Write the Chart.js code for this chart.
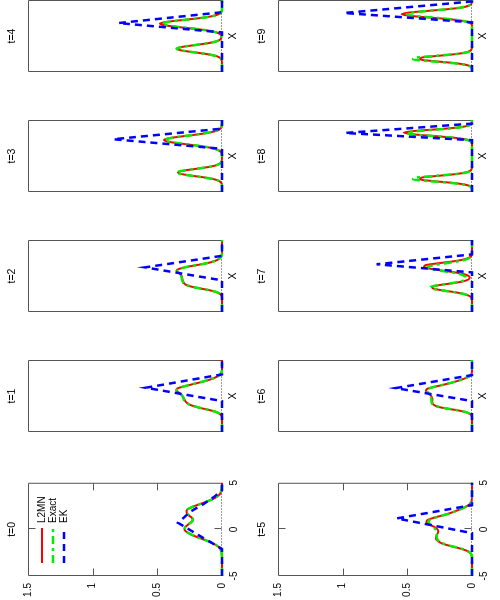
<!DOCTYPE html>
<html><head><meta charset="utf-8">
<script src="https://cdn.jsdelivr.net/npm/chart.js@4/dist/chart.umd.min.js"></script>
<style>
html,body{margin:0;padding:0;background:#fff;width:500px;height:600px;overflow:hidden}
#fig{position:absolute;left:0;top:0;width:600px;height:500px;transform-origin:0 0;transform:translate(0,600px) rotate(-90deg)}
#fig canvas{position:absolute}
</style></head><body><div id="fig"></div>
<script>
// ---- data ----
const TIMES = [0,1,2,3,4,5,6,7,8,9];
const SERIES_NAMES = ['L2MN','Exact','EK'];
const X_TICKS = [-5,0,5];
const Y_TICKS = [0,0.5,1,1.5];
const XS = [-5,-4.75,-4.5,-4.25,-4,-3.75,-3.5,-3.25,-3,-2.75,-2.5,-2.25,-2,-1.75,-1.5,-1.25,-1,-0.75,-0.5,-0.25,0,0.25,0.5,0.75,1,1.25,1.5,1.75,2,2.25,2.5,2.75,3,3.25,3.5,3.75,4,4.25,4.5,4.75,5];

const EXACT_T0 = [0,0,0,0,0,0,0,0,0,0.001,0.003,0.008,0.018,0.038,0.07,0.11,0.155,0.205,0.245,0.275,0.29,0.285,0.265,0.24,0.225,0.232,0.255,0.272,0.275,0.255,0.215,0.165,0.115,0.072,0.04,0.02,0.008,0.003,0.001,0,0];
const L2MN_T0  = [0,0,0,0,0,0,0,0,0,0.001,0.003,0.008,0.019,0.039,0.071,0.112,0.157,0.206,0.246,0.276,0.29,0.284,0.264,0.24,0.226,0.234,0.257,0.273,0.275,0.254,0.213,0.163,0.114,0.071,0.04,0.02,0.008,0.003,0.001,0,0];
const EXACT_T1 = [0,0,0,0,0,0,0,0,0,0.005,0.015,0.04,0.085,0.145,0.2,0.245,0.27,0.285,0.295,0.3,0.307,0.317,0.332,0.348,0.345,0.31,0.26,0.205,0.15,0.1,0.06,0.032,0.014,0.005,0.001,0,0,0,0,0,0];
const L2MN_T1  = [0,0,0,0,0,0,0,0,0,0.005,0.016,0.041,0.086,0.146,0.2,0.244,0.268,0.282,0.29,0.296,0.305,0.318,0.336,0.354,0.35,0.312,0.258,0.202,0.148,0.099,0.06,0.032,0.014,0.005,0.001,0,0,0,0,0,0];
const EXACT_T2 = [0,0,0,0,0,0,0,0,0,0.005,0.015,0.04,0.09,0.16,0.23,0.275,0.295,0.305,0.31,0.312,0.315,0.322,0.335,0.345,0.325,0.275,0.2,0.125,0.07,0.035,0.015,0.005,0.001,0,0,0,0,0,0,0,0];
const L2MN_T2  = [0,0,0,0,0,0,0,0,0,0.005,0.015,0.041,0.091,0.162,0.232,0.276,0.294,0.302,0.306,0.308,0.312,0.322,0.338,0.352,0.33,0.278,0.2,0.124,0.069,0.034,0.015,0.005,0.001,0,0,0,0,0,0,0,0];
const EXACT_T3 = [0,0,0,0,0.001,0.005,0.02,0.057,0.131,0.233,0.323,0.348,0.292,0.191,0.097,0.039,0.012,0.003,0.001,0,0,0.002,0.007,0.022,0.056,0.12,0.216,0.326,0.414,0.442,0.397,0.3,0.19,0.102,0.045,0.017,0.005,0.002,0,0,0];
const L2MN_T3  = [0,0,0,0,0.001,0.005,0.02,0.056,0.128,0.228,0.315,0.34,0.286,0.188,0.096,0.039,0.012,0.003,0.001,0,0,0.002,0.007,0.022,0.056,0.121,0.218,0.33,0.42,0.448,0.4,0.3,0.188,0.1,0.044,0.017,0.005,0.002,0,0,0];
const EXACT_T4 = [0,0,0,0,0,0,0.001,0.004,0.017,0.052,0.121,0.222,0.317,0.352,0.304,0.205,0.108,0.044,0.014,0.005,0.006,0.014,0.043,0.105,0.207,0.333,0.435,0.463,0.401,0.282,0.161,0.075,0.029,0.009,0.002,0,0,0,0,0,0];
const L2MN_T4  = [0,0,0,0,0,0,0.001,0.004,0.017,0.051,0.12,0.22,0.314,0.35,0.303,0.205,0.108,0.044,0.014,0.005,0.006,0.014,0.044,0.107,0.212,0.342,0.448,0.479,0.414,0.29,0.165,0.077,0.03,0.009,0.002,0,0,0,0,0,0];
const EXACT_T5 = [0,0,0,0,0,0,0,0,0,0.004,0.015,0.045,0.1,0.17,0.225,0.258,0.27,0.272,0.272,0.275,0.282,0.298,0.32,0.336,0.33,0.285,0.225,0.165,0.12,0.075,0.038,0.015,0.004,0.001,0,0,0,0,0,0,0];
const L2MN_T5  = [0,0,0,0,0,0,0,0,0,0.004,0.016,0.047,0.104,0.176,0.232,0.264,0.278,0.277,0.268,0.26,0.266,0.29,0.325,0.352,0.345,0.295,0.23,0.168,0.121,0.075,0.038,0.015,0.004,0.001,0,0,0,0,0,0,0];
const EXACT_T6 = [0,0,0,0,0,0,0,0,0,0.004,0.015,0.045,0.105,0.19,0.26,0.295,0.31,0.313,0.314,0.316,0.322,0.332,0.343,0.35,0.34,0.295,0.235,0.18,0.13,0.085,0.048,0.02,0.006,0.002,0,0,0,0,0,0,0];
const L2MN_T6  = [0,0,0,0,0,0,0,0,0,0.004,0.015,0.046,0.107,0.193,0.262,0.294,0.306,0.307,0.306,0.308,0.315,0.33,0.346,0.356,0.346,0.298,0.236,0.18,0.13,0.085,0.048,0.02,0.006,0.002,0,0,0,0,0,0,0];
const EXACT_T7 = [0,0,0,0,0,0,0,0.001,0.006,0.023,0.063,0.137,0.232,0.306,0.318,0.255,0.16,0.085,0.052,0.048,0.058,0.092,0.158,0.247,0.323,0.344,0.297,0.209,0.12,0.056,0.021,0.007,0.002,0,0,0,0,0,0,0,0];
const L2MN_T7  = [0,0,0,0,0,0,0,0.001,0.006,0.022,0.061,0.133,0.226,0.298,0.31,0.248,0.15,0.07,0.03,0.018,0.025,0.06,0.13,0.23,0.32,0.372,0.36,0.27,0.16,0.075,0.028,0.008,0.002,0,0,0,0,0,0,0,0];
const EXACT_T8 = [0,0,0.002,0.011,0.052,0.158,0.326,0.456,0.432,0.277,0.12,0.035,0.007,0.001,0,0,0,0,0,0,0,0,0,0,0,0,0,0,0.009,0.039,0.127,0.286,0.453,0.503,0.393,0.215,0.083,0.022,0.004,0.001,0];
const L2MN_T8  = [0,0,0.002,0.01,0.046,0.14,0.29,0.405,0.39,0.26,0.12,0.04,0.01,0.002,0,0,0,0,0,0,0,0,0,0,0,0,0,0,0.008,0.035,0.118,0.275,0.45,0.528,0.43,0.24,0.09,0.024,0.005,0.001,0];
const EXACT_T9 = [0,0,0.002,0.011,0.052,0.158,0.326,0.456,0.432,0.277,0.12,0.035,0.007,0.001,0,0,0,0,0,0,0,0,0,0,0,0,0,0.013,0.046,0.126,0.263,0.417,0.504,0.465,0.326,0.175,0.071,0.022,0.005,0.001,0];
const L2MN_T9  = [0,0,0.002,0.01,0.046,0.14,0.29,0.405,0.39,0.26,0.12,0.04,0.01,0.002,0,0,0,0,0,0,0,0,0,0,0,0,0,0.012,0.045,0.13,0.28,0.45,0.543,0.49,0.335,0.175,0.068,0.02,0.004,0.001,0];

const EK_X_T0 = [-5,-2.1,0.7,1.9,2.7,3.5,4.2,5];  const EK_Y_T0 = [0,0,0.34,0.245,0.145,0.06,0,0];
const EK_X_T1 = [-5,-0.7,1.15,3.0,5];  const EK_Y_T1 = [0,0,0.59,0,0];
const EK_X_T2 = [-5,-0.6,1.2,2.8,5];   const EK_Y_T2 = [0,0,0.595,0,0];
const EK_X_T3 = [-5,1.0,2.33,3.8,5];   const EK_Y_T3 = [0,0,0.84,0,0];
const EK_X_T4 = [-5,0.5,1.8,3.3,5];    const EK_Y_T4 = [0,0,0.8,0,0];
const EK_X_T5 = [-5,-0.4,1.18,2.6,5];  const EK_Y_T5 = [0,0,0.582,0,0];
const EK_X_T6 = [-5,-0.7,1.1,2.9,5];   const EK_Y_T6 = [0,0,0.59,0,0];
const EK_X_T7 = [-5,0.5,1.63,3.0,5];   const EK_Y_T7 = [0,0,0.737,0,0];
const EK_X_T8 = [-5,2.2,3.2,4.5,5];    const EK_Y_T8 = [0,0,0.98,0,0];
const EK_X_T9 = [-5,1.9,3.2,4.8,5];    const EK_Y_T9 = [0,0,0.988,0,0];

const EXACT = [EXACT_T0,EXACT_T1,EXACT_T2,EXACT_T3,EXACT_T4,EXACT_T5,EXACT_T6,EXACT_T7,EXACT_T8,EXACT_T9];
const L2MN  = [L2MN_T0,L2MN_T1,L2MN_T2,L2MN_T3,L2MN_T4,L2MN_T5,L2MN_T6,L2MN_T7,L2MN_T8,L2MN_T9];
const EK_X  = [EK_X_T0,EK_X_T1,EK_X_T2,EK_X_T3,EK_X_T4,EK_X_T5,EK_X_T6,EK_X_T7,EK_X_T8,EK_X_T9];
const EK_Y  = [EK_Y_T0,EK_Y_T1,EK_Y_T2,EK_Y_T3,EK_Y_T4,EK_Y_T5,EK_Y_T6,EK_Y_T7,EK_Y_T8,EK_Y_T9];

// ---- rendering ----
const FONT = '"Liberation Sans", Arial, Helvetica, sans-serif';
Chart.defaults.font.family = FONT;
Chart.defaults.color = '#000';

const framePlugin = {
  id: 'frame',
  beforeDatasetsDraw(chart, args, opts) {
    const {ctx, chartArea: a, scales: {x, y}} = chart;
    const L = a.left + 0.5, R = a.right - 0.5, T = a.top + 0.5;
    ctx.save();
    ctx.lineWidth = 1; ctx.strokeStyle = '#555';
    ctx.beginPath();
    ctx.moveTo(L, a.bottom); ctx.lineTo(L, T); ctx.lineTo(R, T); ctx.lineTo(R, a.bottom);
    ctx.stroke();
    const y0 = Math.round(y.getPixelForValue(0)) - 0.5;
    ctx.setLineDash([1, 2]); ctx.strokeStyle = '#333';
    ctx.beginPath(); ctx.moveTo(L, y0); ctx.lineTo(R, y0); ctx.stroke();
    ctx.setLineDash([]);
    if (opts.ticks) {
      ctx.strokeStyle = '#555';
      ctx.beginPath();
      for (const v of Y_TICKS) {
        if (v <= 0 || v >= 1.5) continue;
        const p = Math.round(y.getPixelForValue(v)) + 0.5;
        ctx.moveTo(L, p); ctx.lineTo(L + 7, p);
        ctx.moveTo(R, p); ctx.lineTo(R - 7, p);
      }
      for (const v of X_TICKS) {
        if (v <= -5 || v >= 5) continue;
        const p = Math.round(x.getPixelForValue(v)) + 0.5;
        ctx.moveTo(p, T); ctx.lineTo(p, T + 7);
        ctx.moveTo(p, y0); ctx.lineTo(p, y0 - 7);
      }
      ctx.stroke();
    }
    ctx.restore();
  }
};

const keyPlugin = {
  id: 'key',
  afterDatasetsDraw(chart, args, opts) {
    if (!opts.show) return;
    const {ctx, chartArea: a} = chart;
    ctx.save();
    chart.data.datasets.forEach((ds, i) => {
      const yy = a.top + 14 + 11 * i;
      ctx.strokeStyle = ds.borderColor; ctx.lineWidth = ds.borderWidth;
      ctx.setLineDash(ds.borderDash || []);
      ctx.beginPath(); ctx.moveTo(a.left + 13, yy); ctx.lineTo(a.left + 48, yy); ctx.stroke();
      ctx.setLineDash([]);
      ctx.fillStyle = '#000'; ctx.font = '10px ' + FONT;
      ctx.textBaseline = 'middle'; ctx.textAlign = 'left';
      ctx.fillText(ds.label, a.left + 53, yy);
    });
    ctx.restore();
  }
};

function pts(xs, ys) { return xs.map((x, i) => ({x: x, y: ys[i]})); }

const fig = document.getElementById('fig');
TIMES.forEach((t, k) => {
  const col = k % 5, row = Math.floor(k / 5);
  const first = col === 0;
  const cv = document.createElement('canvas');
  cv.width = 126; cv.height = 250;
  cv.style.width = '126px'; cv.style.height = '250px';
  cv.style.left = (120 * col) + 'px'; cv.style.top = (250 * row) + 'px';
  fig.appendChild(cv);
  const tickFont = {family: FONT, size: 10};
  const labFont = {family: FONT, size: 10.5};
  new Chart(cv, {
    type: 'line',
    data: {
      datasets: [
        {label: SERIES_NAMES[0], data: pts(XS, L2MN[k]), borderColor: '#ff0000', borderWidth: 2,
         pointRadius: 0, cubicInterpolationMode: 'monotone', order: 2, clip: false, fill: false},
        {label: SERIES_NAMES[1], data: pts(XS, EXACT[k]), borderColor: '#00ee00', borderWidth: 2.5,
         borderDash: [8, 4, 3, 4], pointRadius: 0, cubicInterpolationMode: 'monotone', order: 1, clip: false, fill: false},
        {label: SERIES_NAMES[2], data: pts(EK_X[k], EK_Y[k]), borderColor: '#0000ff', borderWidth: 2.5,
         borderDash: [7, 5], pointRadius: 0, tension: 0, order: 0, clip: false, fill: false}
      ]
    },
    options: {
      responsive: false, animation: false, events: [], devicePixelRatio: 1,
      layout: {padding: {left: first ? 0 : 24, right: 6, top: 0, bottom: 0}},
      plugins: {
        legend: {display: false}, tooltip: {enabled: false},
        title: {display: true, text: 't=' + t, fullSize: false, color: '#000',
                font: {family: FONT, size: 10.5, weight: 'normal'}, padding: {top: 6, bottom: 9.4}},
        frame: {ticks: first},
        key: {show: k === 0}
      },
      scales: {
        x: {
          type: 'linear', min: -5, max: 5,
          afterFit(s) { s.height = 28; },
          grid: {display: false, drawTicks: false}, border: {display: false},
          ticks: {display: first, stepSize: 5, padding: 6, font: tickFont, color: '#000', maxRotation: 0, autoSkip: false,
                  callback: (v) => String(v)},
          title: {display: !first, text: 'X', color: '#000', font: labFont, padding: {top: 0, bottom: 11}}
        },
        y: {
          display: first, min: 0, max: 1.5,
          afterFit(s) { s.width = 24; },
          grid: {display: false, drawTicks: false}, border: {display: false},
          ticks: {stepSize: 0.5, padding: 7, font: tickFont, color: '#000', autoSkip: false,
                  callback: (v) => String(v)}
        }
      }
    },
    plugins: [framePlugin, keyPlugin]
  });
});
</script>
</body></html>
